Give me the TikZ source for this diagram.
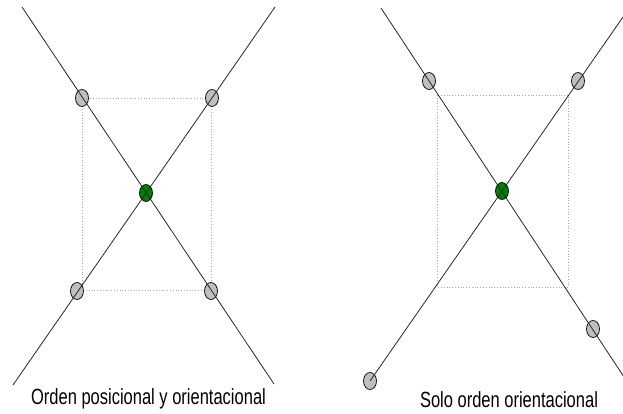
\documentclass[tikz,border=0pt]{standalone}
\usepackage{fontspec}
\setmainfont{Liberation Sans}
\usetikzlibrary{shapes.geometric}
\begin{document}
\begin{tikzpicture}[x=1pt,y=-1pt,
  dot/.style={ellipse,draw=black,line width=0.7pt,fill=gray!50,minimum width=13pt,minimum height=17pt,inner sep=0pt},
  pivot/.style={dot,fill=green!50!black},
  axis/.style={draw=black!85,line width=0.8pt},
  guide/.style={draw=gray!70,dotted,line width=0.8pt},
  caption/.style={anchor=base,inner sep=0pt,font=\fontsize{22}{26}\selectfont}]
\useasboundingbox (0,0) rectangle (623,414);

% ---- left: positional and orientational order ----
\coordinate (La1) at (22,7);   \coordinate (La2) at (274,384);
\coordinate (Lb1) at (275,7);  \coordinate (Lb2) at (13,385);
\draw[guide] (82,98) rectangle (211,290);
\node[dot] (ltl) at (82,98) {};
\node[dot] (ltr) at (212,98) {};
\node[dot] (lbl) at (77,291) {};
\node[dot] (lbr) at (211,291) {};
\node[pivot] (lc) at (146,193) {};
\draw[axis] (La1) -- (La2);
\draw[axis] (Lb1) -- (Lb2);
\node[caption] (lcap) at (148.5,404) {\scalebox{0.75}[1]{Orden posicional y orientacional}};

% ---- right: orientational order only ----
\coordinate (Ra1) at (381,8);  \coordinate (Ra2) at (624,377);
\coordinate (Rb1) at (623,17);
\draw[guide] (437,95) rectangle (568,287);
\node[dot] (rtl) at (429,81) {};
\node[dot] (rtr) at (578,81) {};
\node[dot] (rbr) at (593,329) {};
\node[dot] (rbl) at (370,381) {};
\node[pivot] (rc) at (502,191) {};
\draw[axis] (Ra1) -- (Ra2);
\draw[axis] (Rb1) -- (rbl.center);
\node[caption] (rcap) at (509,407) {\scalebox{0.75}[1]{Solo orden orientacional}};
\end{tikzpicture}
\end{document}
